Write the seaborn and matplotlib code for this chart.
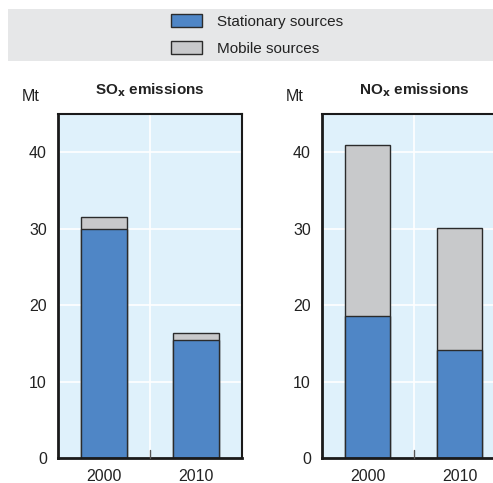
import matplotlib
matplotlib.use('Agg')
import matplotlib.pyplot as plt
import seaborn as sns
import pandas as pd
from matplotlib.patches import Rectangle

# -----------------------------
# data (Mt)
# -----------------------------
years = ['2000', '2010']
so_stationary = [30.0, 15.5]
so_mobile = [1.5, 0.8]
no_stationary = [18.6, 14.1]
no_mobile = [22.4, 16.0]
series_labels = ['Stationary sources', 'Mobile sources']
y_ticks = [0, 10, 20, 30, 40]

BLUE = '#4f86c6'
GREY = '#c8c9cb'
BG = '#dff1fb'
EDGE = '#2b2b2b'

sns.set_style('white')
plt.rcParams['font.family'] = ['Liberation Sans', 'DejaVu Sans']
plt.rcParams['mathtext.default'] = 'regular'

fig = plt.figure(figsize=(4.93, 4.83), dpi=100)


def draw_panel(ax, stationary, mobile, title):
    df = pd.DataFrame({'year': years, 'stationary': stationary,
                       'total': [s + m for s, m in zip(stationary, mobile)]})
    sns.barplot(data=df, x='year', y='total', order=years, color=GREY,
                width=0.49, edgecolor=EDGE, linewidth=1.0, saturation=1, ax=ax)
    sns.barplot(data=df, x='year', y='stationary', order=years, color=BLUE,
                width=0.49, edgecolor=EDGE, linewidth=1.0, saturation=1, ax=ax)
    ax.set_facecolor(BG)
    ax.set_xlim(-0.5, 1.5)
    ax.set_ylim(0, 45)
    ax.set_yticks(y_ticks)
    for y in y_ticks[1:]:
        ax.axhline(y, color='white', lw=1.2, zorder=0.5)
    ax.axvline(0.5, color='white', lw=1.2, zorder=0.5)
    ax.set_axisbelow(True)
    ax.set_xlabel('')
    ax.set_ylabel('')
    ax.tick_params(axis='y', direction='in', length=7, width=1, color='#555555',
                   labelsize=11.5, labelcolor='#222222', pad=8)
    ax.tick_params(axis='x', length=0, labelsize=11.5, labelcolor='#222222', pad=8)
    # small tick between categories at the bottom
    ax.plot([0.5, 0.5], [0, 1.0], color='#555555', lw=1, clip_on=False, zorder=3)
    for side in ['left', 'bottom']:
        ax.spines[side].set_linewidth(2.0)
        ax.spines[side].set_color('#1a1a1a')
    for side in ['top', 'right']:
        ax.spines[side].set_linewidth(1.5)
        ax.spines[side].set_color('#1a1a1a')
    ax.text(0.5, 1.07, title, transform=ax.transAxes, ha='center', va='center',
            fontsize=11, fontweight='bold', color='#222222')
    ax.text(-0.15, 1.05, 'Mt', transform=ax.transAxes, ha='center', va='center',
            fontsize=11.5, color='#222222')


ax1 = fig.add_axes([0.1176, 0.0518, 0.3732, 0.712])
draw_panel(ax1, so_stationary, so_mobile, r'SO$_\mathbf{x}$ emissions')

ax2 = fig.add_axes([0.653, 0.0518, 0.3732, 0.712])
draw_panel(ax2, no_stationary, no_mobile, r'NO$_\mathbf{x}$ emissions')

# legend band
fig.patches.append(Rectangle((8 / 493, 1 - 61 / 483), 1 - 8 / 493, 52 / 483,
                             transform=fig.transFigure, facecolor='#e6e7e8',
                             edgecolor='none', zorder=0))
handles = [Rectangle((0, 0), 1, 1, facecolor=BLUE, edgecolor=EDGE, lw=1),
           Rectangle((0, 0), 1, 1, facecolor=GREY, edgecolor=EDGE, lw=1)]
fig.legend(handles, series_labels, loc='center', bbox_to_anchor=(257 / 493, 1 - 35 / 483),
           frameon=False, fontsize=11, handlelength=2.0, handleheight=0.95,
           labelspacing=0.8, handletextpad=1.0, borderpad=0, labelcolor='#222222')

fig.savefig('out.png', dpi=100)
